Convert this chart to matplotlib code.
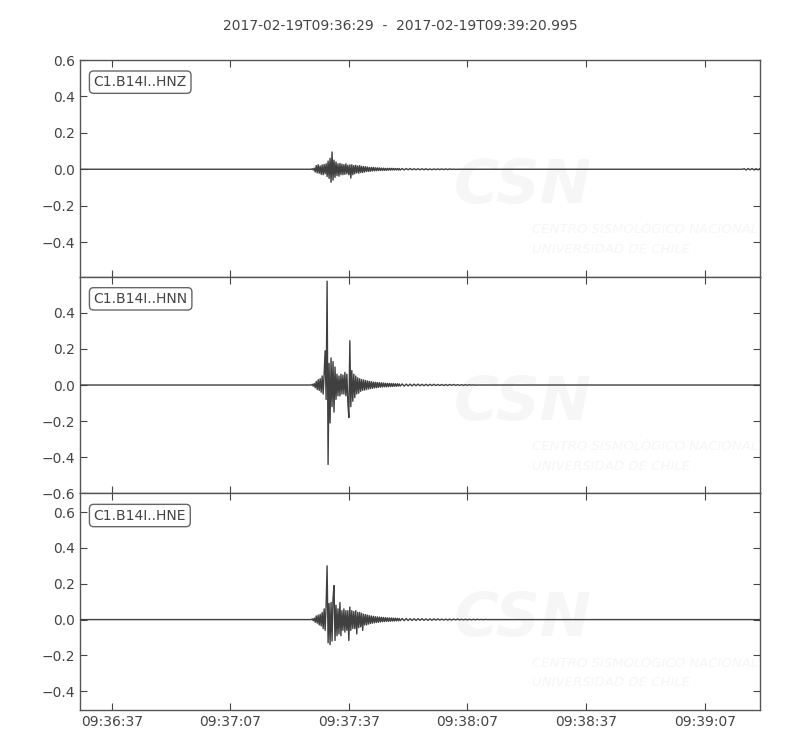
import numpy as np
import matplotlib
matplotlib.use('Agg')
import matplotlib.pyplot as plt
import matplotlib.dates as mdates

# record info
start = np.datetime64('2017-02-19T09:36:29.000')
end = np.datetime64('2017-02-19T09:39:20.995')
title = '2017-02-19T09:36:29  -  2017-02-19T09:39:20.995'
channels = ['C1.B14I..HNZ', 'C1.B14I..HNN', 'C1.B14I..HNE']

# strong motion, samples 0.25 s apart, starting 58.5 s after record start
event_t0 = 58.5
event_dt = 0.25
hnz = [0.0, 0.003, -0.004, 0.006,
       -0.015, 0.02, -0.02, 0.025, -0.022, 0.018, -0.028, 0.024, -0.03, 0.026, -0.025, 0.03,
       -0.04, 0.045, -0.05, 0.06, -0.072, 0.095, -0.06, 0.05, -0.045,
       0.04, -0.035, 0.03, -0.038, 0.032, -0.03, 0.028, -0.03, 0.025, -0.028, 0.03, -0.025,
       0.022, -0.03, 0.024,
       -0.048, 0.025, -0.03, 0.02, -0.025, 0.022, -0.02, 0.018, -0.022, 0.02, -0.018, 0.016,
       -0.018, 0.015, -0.015, 0.014,
       -0.012, 0.012, -0.012, 0.01, -0.011, 0.01, -0.009, 0.01, -0.009, 0.008, -0.008, 0.008,
       -0.007, 0.007, -0.007, 0.006, -0.006, 0.006, -0.006, 0.005, -0.006, 0.005, -0.005,
       0.005, -0.005, 0.005, -0.004, 0.005, -0.004, 0.004, -0.004, 0.004, -0.004, 0.004]
hnn = [0.0, 0.004, -0.006, 0.008,
       -0.015, 0.02, -0.025, 0.03, -0.03, 0.035, -0.04, 0.05, -0.05, 0.06,
       0.19, -0.08, 0.575, -0.44, 0.12, -0.21,
       0.15, -0.12, 0.13, -0.15, 0.1, -0.08, 0.06, -0.06, 0.05, -0.06,
       0.06, -0.05, 0.055, -0.05, 0.07, -0.06, 0.06, -0.1, -0.18, 0.245,
       -0.12, 0.08, -0.09, 0.06, -0.07, 0.05, -0.05, 0.04, -0.045, 0.035,
       -0.035, 0.03, -0.03, 0.028, -0.028, 0.025, -0.025, 0.022, -0.022, 0.02,
       -0.02, 0.018, -0.018, 0.016, -0.016, 0.015, -0.015, 0.014, -0.013, 0.013,
       -0.012, 0.012, -0.011, 0.011, -0.01, 0.01, -0.01, 0.009, -0.009, 0.009,
       -0.008, 0.008, -0.008, 0.008, -0.007, 0.007, -0.007, 0.007, -0.006, 0.006]
hne = [0.0, 0.004, -0.006, 0.008,
       -0.015, 0.02, -0.02, 0.025, -0.03, 0.03, -0.035, 0.04, -0.05, 0.06,
       -0.06, 0.08, 0.30, -0.13, 0.09, -0.14,
       0.096, -0.12, 0.12, 0.19, -0.117, 0.08, -0.09, 0.06, -0.08, 0.096,
       -0.09, 0.05, -0.06, 0.06, -0.07, 0.05, -0.06, 0.05, -0.117, 0.07,
       -0.06, 0.05, -0.05, 0.045, -0.05, 0.05, -0.08, 0.04, -0.045, 0.04,
       -0.04, 0.035, -0.06, 0.03, -0.03, 0.028, -0.03, 0.025, -0.025, 0.022,
       -0.022, 0.02, -0.02, 0.018, -0.018, 0.016, -0.016, 0.015, -0.015, 0.014,
       -0.013, 0.013, -0.012, 0.012, -0.011, 0.011, -0.01, 0.01, -0.01, 0.009,
       -0.009, 0.009, -0.008, 0.008, -0.008, 0.008, -0.007, 0.007, -0.007, 0.006]

# coda, samples 0.5 s apart, right after the strong motion
coda_dt = 0.5
hnz_coda = [-0.004, 0.004, -0.004, 0.004, -0.003, 0.004, -0.003, 0.003, -0.003, 0.003,
            -0.003, 0.003, -0.003, 0.003, -0.003, 0.002, -0.003, 0.002, -0.002, 0.002,
            -0.002, 0.002, -0.002, 0.002, -0.002, 0.002, -0.001, 0.001, -0.001, 0.0]
hnn_coda = [-0.006, 0.006, -0.006, 0.005, -0.005, 0.005, -0.005, 0.005, -0.004, 0.005,
            -0.004, 0.004, -0.004, 0.004, -0.004, 0.004, -0.003, 0.004, -0.003, 0.003,
            -0.003, 0.003, -0.003, 0.003, -0.003, 0.003, -0.002, 0.003, -0.002, 0.002,
            -0.002, 0.002, -0.002, 0.002, -0.002, 0.002, -0.001, 0.001, -0.001, 0.0]
hne_coda = [-0.006, 0.006, -0.006, 0.006, -0.005, 0.005, -0.005, 0.005, -0.005, 0.005,
            -0.004, 0.005, -0.004, 0.004, -0.004, 0.004, -0.004, 0.004, -0.003, 0.004,
            -0.003, 0.003, -0.003, 0.003, -0.003, 0.003, -0.003, 0.003, -0.002, 0.003,
            -0.002, 0.002, -0.002, 0.002, -0.002, 0.002, -0.002, 0.002, -0.002, 0.002,
            -0.001, 0.001, -0.001, 0.001, 0.0]

# small wiggle near the end of the HNZ record
tail_t0 = 167.5
hnz_tail = [0.0, 0.003, -0.004, 0.004, -0.003, 0.004, -0.004, 0.003, -0.003, 0.003, 0.0]

ylims = [(-0.59, 0.6), (-0.6, 0.6), (-0.505, 0.705)]
yticks = [[-0.4, -0.2, 0.0, 0.2, 0.4, 0.6],
          [-0.6, -0.4, -0.2, 0.0, 0.2, 0.4],
          [-0.4, -0.2, 0.0, 0.2, 0.4, 0.6]]

total = (end - start) / np.timedelta64(1, 's')


def trace(vals, coda, tail=None):
    secs = [0.0] + [event_t0 + event_dt * i for i in range(len(vals))]
    amps = [0.0] + list(vals)
    coda_t0 = event_t0 + event_dt * len(vals)
    secs += [coda_t0 + coda_dt * i for i in range(len(coda))]
    amps += list(coda)
    if tail is not None:
        secs += [tail_t0 + coda_dt * i for i in range(len(tail))]
        amps += list(tail)
    secs.append(total)
    amps.append(0.0)
    t = start + (np.array(secs) * 1000).astype('timedelta64[ms]')
    return t.astype('datetime64[ms]').astype(object), amps


plt.rcParams['font.family'] = 'DejaVu Sans'
fg = '#444444'
wm = '#f6f6f6'
fig = plt.figure(figsize=(8, 7.5), dpi=100)
fig.suptitle(title, y=0.975, fontsize=10, color=fg)

data = [trace(hnz, hnz_coda, hnz_tail), trace(hnn, hnn_coda), trace(hne, hne_coda)]
left, right, top, bottom = 0.1, 0.95, 0.92, 0.0533
h = (top - bottom) / 3
axes = []
for i in range(3):
    ax = fig.add_axes([left, top - h * (i + 1), right - left, h],
                      sharex=axes[0] if axes else None)
    axes.append(ax)
    t, a = data[i]
    ax.plot(t, a, color='#404040', lw=1.0, zorder=3)
    ax.set_ylim(*ylims[i])
    ax.set_yticks(yticks[i])
    ax.set_xlim(start.astype(object), end.astype(object))
    # faint CSN watermark
    ax.text(0.55, 0.34, 'CSN', transform=ax.transAxes, fontsize=44,
            fontweight='bold', style='italic', color=wm, zorder=1)
    ax.text(0.665, 0.2, 'CENTRO SISMOLÓGICO NACIONAL', transform=ax.transAxes,
            fontsize=9.5, style='italic', color=wm, zorder=1)
    ax.text(0.665, 0.11, 'UNIVERSIDAD DE CHILE', transform=ax.transAxes,
            fontsize=9.5, style='italic', color=wm, zorder=1)
    ax.text(0.02, 0.93, channels[i], transform=ax.transAxes, fontsize=10,
            color=fg, va='top', ha='left', zorder=5,
            bbox=dict(boxstyle='round,pad=0.3', fc='white', ec='#666666', lw=1))
    ax.tick_params(direction='in', top=True, right=True, length=5,
                   colors=fg, labelsize=10, width=0.8)
    for s in ax.spines.values():
        s.set_color('#555555')
        s.set_linewidth(1.0)
    if i < 2:
        ax.tick_params(labelbottom=False)

axes[-1].xaxis.set_major_locator(mdates.SecondLocator(bysecond=[7, 37]))
axes[-1].xaxis.set_major_formatter(mdates.DateFormatter('%H:%M:%S'))

fig.savefig('out.png', dpi=100)
